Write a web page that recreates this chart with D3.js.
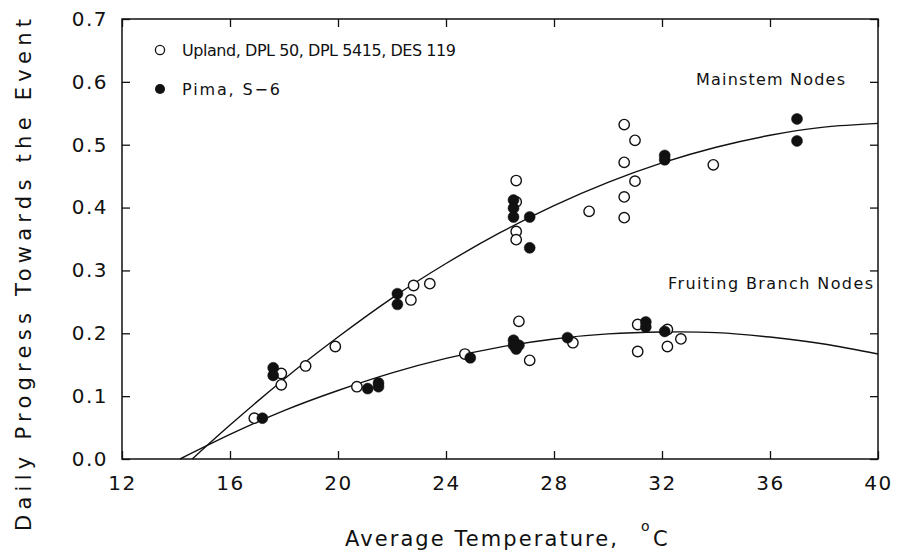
<!DOCTYPE html>
<html>
<head>
<meta charset="utf-8">
<script src="https://cdn.jsdelivr.net/npm/d3@7/dist/d3.min.js"></script>
<style>
  body { margin: 0; background: #fff; }
  svg text { font-family: "DejaVu Sans", "Liberation Sans", sans-serif; fill: #111; }
</style>
</head>
<body>
<div id="chart"></div>
<script>
// values: [temperature °C, daily progress]
const mainUpland = [
  [17.9, 0.136], [17.9, 0.118], [18.8, 0.148], [19.9, 0.179],
  [22.8, 0.276], [22.7, 0.253], [23.4, 0.279],
  [26.6, 0.443], [26.6, 0.409], [26.6, 0.362], [26.6, 0.349],
  [29.3, 0.394], [30.6, 0.532], [31.0, 0.507], [30.6, 0.472],
  [31.0, 0.442], [30.6, 0.417], [30.6, 0.384], [33.9, 0.468]
];
const mainPima = [
  [17.6, 0.145], [17.6, 0.133], [22.2, 0.263], [22.2, 0.246],
  [26.5, 0.412], [26.5, 0.399], [26.5, 0.385], [27.1, 0.385],
  [27.1, 0.336], [32.1, 0.483], [32.1, 0.476], [37.0, 0.541], [37.0, 0.506]
];
const fruitUpland = [
  [16.9, 0.065], [20.7, 0.115], [24.7, 0.167], [26.7, 0.219],
  [27.1, 0.157], [28.7, 0.185], [31.1, 0.214], [31.1, 0.171],
  [32.2, 0.206], [32.2, 0.179], [32.7, 0.191]
];
const fruitPima = [
  [17.2, 0.065], [21.1, 0.112], [21.5, 0.121], [21.5, 0.115],
  [24.9, 0.161], [26.5, 0.189], [26.5, 0.181], [26.7, 0.181],
  [26.6, 0.175], [28.5, 0.193], [31.4, 0.218], [31.4, 0.210], [32.1, 0.203]
];
// fitted curves
const mainCurve = [
  [14.6, 0], [16, 0.054], [18, 0.127], [20, 0.194], [22, 0.256], [24, 0.311],
  [26, 0.360], [28, 0.403], [30, 0.440], [32, 0.471], [34, 0.496],
  [36, 0.515], [38, 0.528], [40, 0.534]
];
const fruitCurve = [
  [14.15, 0], [16, 0.039], [18, 0.077], [20, 0.109], [22, 0.137], [24, 0.160],
  [26, 0.178], [28, 0.191], [30, 0.199], [32, 0.202], [34, 0.201],
  [36, 0.194], [38, 0.183], [40, 0.167]
];
const xTicks = [12, 16, 20, 24, 28, 32, 36, 40];
const yTicks = [0, 0.1, 0.2, 0.3, 0.4, 0.5, 0.6, 0.7];

const width = 900, height = 553;
const plotLeft = 122, plotRight = 878, plotTop = 19, plotBottom = 459;

const svg = d3.select("#chart").append("svg")
    .attr("width", width)
    .attr("height", height);

const x = d3.scaleLinear().domain([12, 40]).range([plotLeft, plotRight]);
const y = d3.scaleLinear().domain([0, 0.7]).range([plotBottom, plotTop]);

// frame
svg.append("rect")
    .attr("x", plotLeft).attr("y", plotTop)
    .attr("width", plotRight - plotLeft).attr("height", plotBottom - plotTop)
    .attr("fill", "none").attr("stroke", "#111").attr("stroke-width", 1.5);

function styleAxis(g) {
  g.select(".domain").remove();
  g.selectAll(".tick line").attr("stroke", "#111").attr("stroke-width", 1.3);
  g.selectAll("text").attr("font-size", 20).attr("letter-spacing", 1.5).attr("fill", "#111");
}

svg.append("g")
    .attr("transform", `translate(0,${plotBottom})`)
    .call(d3.axisBottom(x).tickValues(xTicks).tickSize(-8).tickPadding(17))
    .call(styleAxis);
svg.append("g")
    .attr("transform", `translate(0,${plotTop})`)
    .call(d3.axisTop(x).tickValues(xTicks).tickSize(-8).tickFormat(""))
    .call(styleAxis);
svg.append("g")
    .attr("transform", `translate(${plotLeft},0)`)
    .call(d3.axisLeft(y).tickValues(yTicks).tickSize(-8).tickPadding(14).tickFormat(d3.format(".1f")))
    .call(styleAxis);
svg.append("g")
    .attr("transform", `translate(${plotRight},0)`)
    .call(d3.axisRight(y).tickValues(yTicks).tickSize(-8).tickFormat(""))
    .call(styleAxis);

// curves
const line = d3.line()
    .x(d => x(d[0]))
    .y(d => y(d[1]))
    .curve(d3.curveNatural);

[mainCurve, fruitCurve].forEach(function (c) {
  svg.append("path")
      .attr("d", line(c))
      .attr("fill", "none")
      .attr("stroke", "#111")
      .attr("stroke-width", 1.4);
});

// points
function drawPoints(data, filled) {
  svg.append("g").selectAll("circle")
      .data(data)
      .enter()
      .append("circle")
      .attr("cx", d => x(d[0]))
      .attr("cy", d => y(d[1]))
      .attr("r", filled ? 5.5 : 5.2)
      .attr("fill", filled ? "#111" : "#fff")
      .attr("stroke", "#111")
      .attr("stroke-width", filled ? 0.5 : 1.4);
}
drawPoints(mainUpland, false);
drawPoints(fruitUpland, false);
drawPoints(mainPima, true);
drawPoints(fruitPima, true);

// legend
svg.append("circle").attr("cx", 160).attr("cy", 50).attr("r", 4.6)
    .attr("fill", "#fff").attr("stroke", "#111").attr("stroke-width", 1.3);
svg.append("circle").attr("cx", 160).attr("cy", 89).attr("r", 5)
    .attr("fill", "#111");
svg.append("text").attr("x", 182).attr("y", 56).attr("font-size", 16)
    .attr("textLength", 274).attr("lengthAdjust", "spacing")
    .text("Upland, DPL 50, DPL 5415, DES 119");
svg.append("text").attr("x", 182).attr("y", 95).attr("font-size", 16)
    .attr("textLength", 98).attr("lengthAdjust", "spacing")
    .text("Pima, S\u22126");

// curve labels
svg.append("text").attr("x", 696).attr("y", 85).attr("font-size", 16)
    .attr("textLength", 149).attr("lengthAdjust", "spacing")
    .text("Mainstem Nodes");
svg.append("text").attr("x", 668).attr("y", 289).attr("font-size", 16)
    .attr("textLength", 205).attr("lengthAdjust", "spacing")
    .text("Fruiting Branch Nodes");

// axis titles
svg.append("text").attr("x", 345).attr("y", 546).attr("font-size", 21)
    .attr("textLength", 272).attr("lengthAdjust", "spacing")
    .text("Average Temperature,");
svg.append("text").attr("x", 641).attr("y", 531).attr("font-size", 14)
    .text("o");
svg.append("text").attr("x", 653).attr("y", 546).attr("font-size", 21)
    .text("C");

svg.append("text")
    .attr("transform", "translate(31,275) rotate(-90)")
    .attr("text-anchor", "middle")
    .attr("font-size", 21)
    .attr("textLength", 512).attr("lengthAdjust", "spacing")
    .text("Daily Progress Towards the Event");
</script>
</body>
</html>
